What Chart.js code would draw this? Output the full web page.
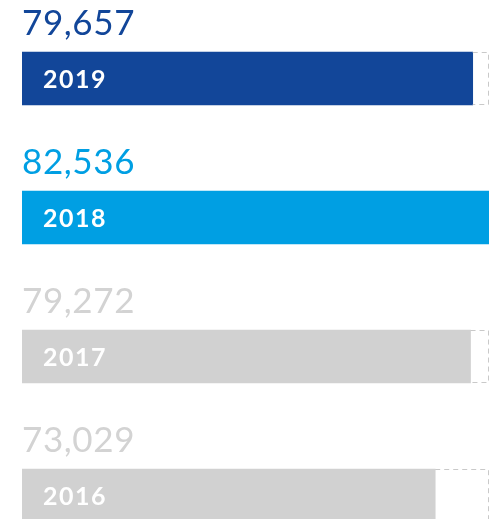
<!DOCTYPE html>
<html>
<head>
<meta charset="utf-8">
<script src="https://cdn.jsdelivr.net/npm/chart.js@4"></script>
<style>
  html, body { margin: 0; padding: 0; background: #ffffff; overflow: hidden; }
  #wrap { position: relative; width: 497px; height: 565px; }
</style>
</head>
<body>
<div id="wrap"><canvas id="chart"></canvas></div>
<script>
// Yearly totals, newest first
const years = ['2019', '2018', '2017', '2016'];
const totals = [79657, 82536, 79272, 73029];
const barColors = ['#124699', '#009fe3', '#d1d1d1', '#d1d1d1'];
const valueColors = ['#124699', '#009fe3', '#d3d3d3', '#d3d3d3'];

const maxTotal = Math.max(...totals);

// Dashed outline from the end of each bar up to the largest total,
// plus the value above each bar and the year inside it.
const barDecor = {
  id: 'barDecor',
  afterDatasetsDraw(chart) {
    const { ctx, scales } = chart;
    const meta = chart.getDatasetMeta(0);
    const xMax = scales.x.getPixelForValue(maxTotal);
    meta.data.forEach((bar, i) => {
      const { x, y, base, height } = bar.getProps(['x', 'y', 'base', 'height'], true);
      const top = y - height / 2;
      const bottom = y + height / 2;
      ctx.save();
      if (xMax - x > 1) {
        ctx.strokeStyle = '#c9c9c9';
        ctx.lineWidth = 1;
        ctx.setLineDash([5, 4]);
        ctx.beginPath();
        ctx.moveTo(x, top + 0.5);
        ctx.lineTo(xMax - 0.5, top + 0.5);
        ctx.lineTo(xMax - 0.5, bottom - 0.5);
        ctx.lineTo(x, bottom - 0.5);
        ctx.stroke();
        ctx.setLineDash([]);
      }
      // value above the bar
      ctx.fillStyle = valueColors[i];
      ctx.font = '400 35px Lato';
      ctx.letterSpacing = '0.6px';
      ctx.textAlign = 'left';
      ctx.textBaseline = 'alphabetic';
      ctx.fillText(totals[i].toLocaleString('en-US'), base, top - 17);
      // year inside the bar
      ctx.fillStyle = '#ffffff';
      ctx.font = '700 25px Lato';
      ctx.letterSpacing = '1.5px';
      ctx.textBaseline = 'middle';
      ctx.fillText(years[i], base + 21, y + 1);
      ctx.restore();
    });
  }
};

new Chart(document.getElementById('chart'), {
  type: 'bar',
  data: {
    labels: years,
    datasets: [{
      data: totals,
      backgroundColor: barColors,
      borderWidth: 0,
      barThickness: 53
    }]
  },
  options: {
    indexAxis: 'y',
    responsive: true,
    maintainAspectRatio: false,
    animation: false,
    layout: { padding: { top: 9, left: 22, right: 8, bottom: 0 } },
    plugins: {
      legend: { display: false },
      tooltip: { enabled: false }
    },
    scales: {
      x: { display: false, min: 0, max: maxTotal },
      y: { display: false, offset: true }
    }
  },
  plugins: [barDecor]
});
</script>
</body>
</html>
